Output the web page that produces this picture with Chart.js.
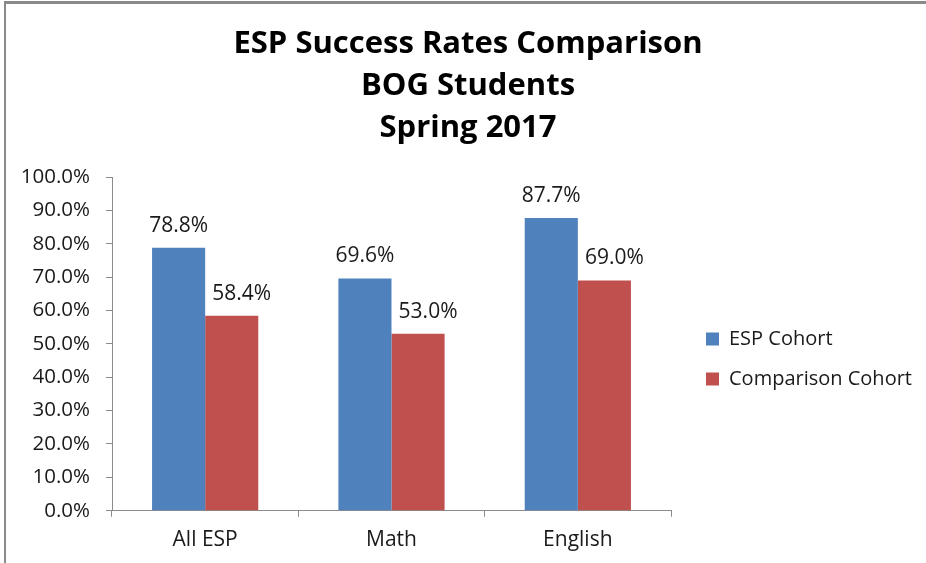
<!DOCTYPE html>
<html>
<head>
<meta charset="utf-8">
<script src="https://cdn.jsdelivr.net/npm/chart.js@4"></script>
<style>
  html, body { margin: 0; padding: 0; background: #fff; }
  #wrap { position: relative; width: 926px; height: 563px; overflow: hidden; }
  #frame { position: absolute; left: 4px; top: 1px; right: -10px; bottom: -10px;
           border-left: 2px solid #8a8a8a; border-top: 3px solid #8a8a8a; }
  canvas { position: absolute; left: 0; top: 0; }
</style>
</head>
<body>
<div id="wrap">
  <div id="frame"></div>
  <canvas id="chart" width="926" height="563"></canvas>
</div>
<script>
// datos del gráfico
const categories = ['All ESP', 'Math', 'English'];
const espCohort = [78.8, 69.6, 87.7];
const comparisonCohort = [58.4, 53.0, 69.0];
const titleLines = ['ESP Success Rates Comparison', 'BOG Students', 'Spring 2017'];

const FONT = '"Open Sans", sans-serif';
const LEGEND_WIDTH = 251;  // del borde derecho del área al borde del canvas
const LEGEND_GAP = 15;     // hueco extra antes de los cuadritos
const LABEL_SHIFT = [0, 10]; // la etiqueta de la 2ª serie va un poco a la derecha

// etiquetas encima de cada barra
const barLabels = {
  id: 'barLabels',
  afterDatasetsDraw(chart) {
    const ctx = chart.ctx;
    ctx.save();
    ctx.font = '21px ' + FONT;
    ctx.fillStyle = '#1a1a1a';
    ctx.textAlign = 'center';
    ctx.textBaseline = 'middle';
    chart.data.datasets.forEach((ds, i) => {
      chart.getDatasetMeta(i).data.forEach((bar, j) => {
        ctx.fillText(ds.data[j].toFixed(1) + '%', bar.x + LABEL_SHIFT[i], bar.y - 22);
      });
    });
    ctx.restore();
  }
};

// ancho fijo para la leyenda y un poco de aire a su izquierda
const legendLayout = {
  id: 'legendLayout',
  beforeLayout(chart) {
    const lg = chart.legend;
    if (lg && !lg._fixedWidth) {
      const fit = lg.fit;
      lg.fit = function () { fit.call(this); this.width = LEGEND_WIDTH; };
      lg._fixedWidth = true;
    }
  },
  afterLayout(chart) {
    if (chart.legend) chart.legend.left += LEGEND_GAP;
  }
};

new Chart(document.getElementById('chart'), {
  type: 'bar',
  data: {
    labels: categories,
    datasets: [
      { label: 'ESP Cohort', data: espCohort, backgroundColor: '#4f81bd' },
      { label: 'Comparison Cohort', data: comparisonCohort, backgroundColor: '#c0504d' }
    ]
  },
  options: {
    responsive: false,
    animation: false,
    layout: { padding: { left: 14, right: 4, top: 23, bottom: 0 } },
    datasets: { bar: { categoryPercentage: 0.57, barPercentage: 1.0 } },
    plugins: {
      title: {
        display: true,
        text: titleLines,
        color: '#000',
        font: { family: FONT, size: 31, weight: 'bold', lineHeight: 1.355 },
        padding: { top: 0, bottom: 28 }
      },
      legend: {
        position: 'right',
        fullSize: false,
        title: { display: true, text: '', font: { size: 10, lineHeight: 1 }, padding: { top: 20, bottom: 0 } },
        labels: {
          color: '#1a1a1a',
          font: { family: FONT, size: 20 },
          boxWidth: 13,
          boxHeight: 13,
          padding: 20
        }
      },
      tooltip: { enabled: false }
    },
    scales: {
      x: {
        grid: { drawOnChartArea: false, tickLength: 6, color: '#8c8c8c' },
        border: { color: '#8c8c8c' },
        ticks: { color: '#1a1a1a', padding: 12, font: { family: FONT, size: 21, lineHeight: 1.06 } }
      },
      y: {
        min: 0,
        max: 100,
        grid: { drawOnChartArea: false, tickLength: 6, color: '#8c8c8c' },
        border: { color: '#8c8c8c' },
        ticks: {
          stepSize: 10,
          color: '#1a1a1a',
          padding: 16,
          font: { family: FONT, size: 20.5 },
          callback: v => v.toFixed(1) + '%'
        },
        afterFit: s => { s.width = 98; }
      }
    }
  },
  plugins: [barLabels, legendLayout]
});
</script>
</body>
</html>
